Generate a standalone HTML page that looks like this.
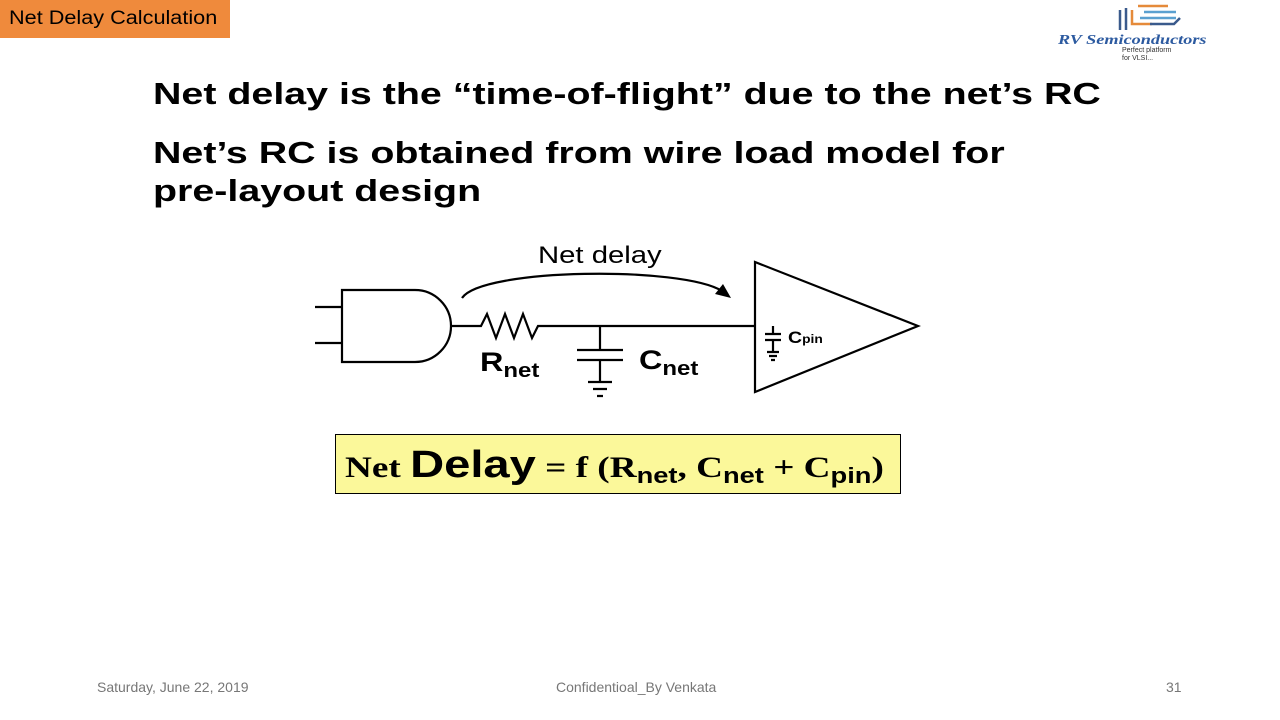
<!DOCTYPE html>
<html><head><meta charset="utf-8"><style>
body{margin:0;width:1280px;height:720px;position:relative;background:#fff;overflow:hidden;font-family:"Liberation Sans",sans-serif}
.t{position:absolute;white-space:nowrap;transform-origin:0 0}
</style></head><body>
<div class="t" style="left:0;top:0;width:230px;height:38px;background:#ef8a3c"></div>
<div class="t" style="left:9px;top:0;color:#000;font-size:19px;line-height:38px;transform:scaleX(1.14)">Net Delay Calculation</div>
<svg style="position:absolute;left:1110px;top:2px" width="80" height="34">
<g fill="none" stroke-width="2.5"><path d="M10 8v20M16 6v22" stroke="#3a5a8c"/><path d="M22 8v14h20M28 4h30" stroke="#e58a3a"/><path d="M34 10h32M30 16h36" stroke="#5aa0d0"/><path d="M40 22h24l6 -6" stroke="#3a5a8c"/></g></svg>
<div class="t" style="left:1058px;top:33px;color:#2c5aa0;font-family:'Liberation Serif',serif;font-style:italic;font-weight:bold;font-size:14px;transform:scaleX(1.3)">RV Semiconductors</div>
<div class="t" style="left:1122px;top:47px;font-size:7px;color:#333">Perfect platform</div>
<div class="t" style="left:1122px;top:55px;font-size:7px;color:#333">for VLSI...</div>
<div class="t" style="left:153px;top:76px;font-size:31px;font-weight:bold;transform:scaleX(1.27)">Net delay is the “time-of-flight” due to the net’s RC</div>
<div class="t" style="left:153px;top:134px;font-size:31px;font-weight:bold;line-height:38px;transform:scaleX(1.27)">Net’s RC is obtained from wire load model for<br>pre-layout design</div>
<svg style="position:absolute;left:0;top:0" width="1280" height="720">
<g stroke="#000" stroke-width="2.2" fill="none">
<path d="M315 307h27M315 343h27"/>
<path d="M342 290h73a36 36 0 0 1 0 72h-73z"/>
<path d="M451 326h30l6-12 9 24 9-24 9 24 9-24 9 24 6-12h216"/>
<path d="M600 326v24M577 350h46M577 360h46M600 360v22M588 382h24M593 389h14M597 396h6"/>
<path d="M755 262v130l163-66z"/>
<path d="M773 326v8M765 334h16M765 340h16M773 340v12M767 352h12M769 356h8M771 360h4"/>
<path d="M462 298c20-30 220-32 260-7"/>
</g>
<path d="M731 298l-16-4 8-10z" fill="#000"/>
</svg>
<div class="t" style="left:538px;top:242px;font-size:24px;transform:scaleX(1.22)">Net delay</div>
<div class="t" style="left:480px;top:347px;font-size:27px;font-weight:bold;transform:scaleX(1.2)">R<sub style="font-size:20px;vertical-align:-6px">net</sub></div>
<div class="t" style="left:639px;top:345px;font-size:27px;font-weight:bold;transform:scaleX(1.2)">C<sub style="font-size:20px;vertical-align:-6px">net</sub></div>
<div class="t" style="left:788px;top:328px;font-size:17px;font-weight:bold;transform:scaleX(1.15)">C<span style="font-size:12px">pin</span></div>
<div class="t" style="left:335px;top:434px;width:566px;height:60px;box-sizing:border-box;background:#fbf89a;border:1.5px solid #000"></div>
<div class="t" style="left:345px;top:435px;font-family:'Liberation Serif',serif;font-weight:bold;font-size:30px;line-height:60px;transform:scaleX(1.24)">Net <span style="font-family:'Liberation Sans',sans-serif;font-size:38px">Delay</span> = f (R<sub style="font-family:'Liberation Sans',sans-serif;font-size:22px;vertical-align:-6px">net</sub>, C<sub style="font-family:'Liberation Sans',sans-serif;font-size:22px;vertical-align:-6px">net</sub> + C<sub style="font-family:'Liberation Sans',sans-serif;font-size:22px;vertical-align:-6px">pin</sub>)</div>
<div class="t" style="left:97px;top:679px;font-size:14px;color:#777">Saturday, June 22, 2019</div>
<div class="t" style="left:556px;top:679px;font-size:14px;color:#777">Confidentioal_By Venkata</div>
<div class="t" style="left:1166px;top:679px;font-size:14px;color:#777">31</div>
</body></html>
